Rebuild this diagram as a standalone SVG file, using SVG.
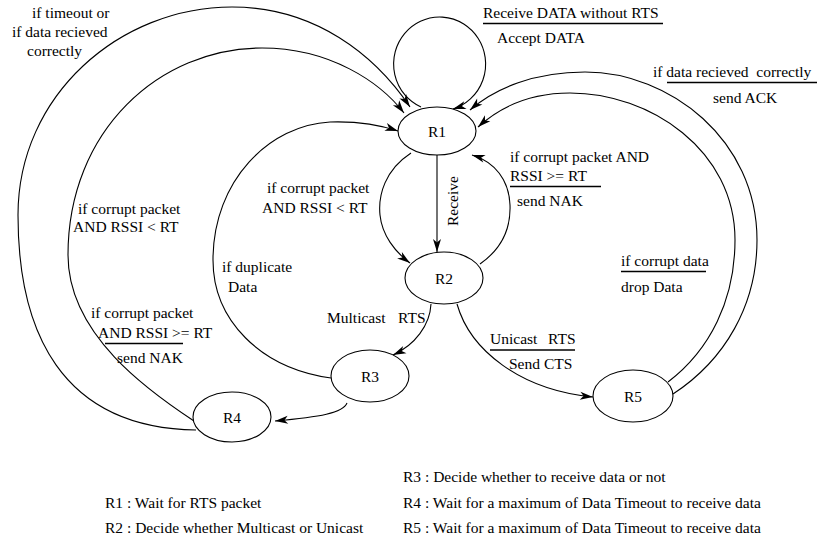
<svg xmlns="http://www.w3.org/2000/svg" width="819" height="542" viewBox="0 0 819 542">
<style>
text{font-family:"Liberation Serif","Times New Roman",serif;font-size:15.5px;fill:#000}
.n ellipse{fill:#fff;stroke:#000;stroke-width:1.1}
.n text{text-anchor:middle}
.c path{fill:none;stroke:#000;stroke-width:1.1}
.bar{stroke:#000;stroke-width:1.3}
</style>
<defs>
<marker id="ah" markerUnits="userSpaceOnUse" markerWidth="16" markerHeight="10" refX="13" refY="4.5" orient="auto" overflow="visible">
<path d="M0,0.5 L13,4.5 L0,8.5 L3.5,4.5 z" fill="#000"/>
</marker>
</defs>
<rect width="819" height="542" fill="#fff"/>
<g id="connectors" class="c">
<path d="M421,107 A46 47 0 1 1 453,109" marker-end="url(#ah)"/>
<path d="M196,430 C60,428 18,330 18,215 C18,95 120,7 232,7 C315,7 375,55 410,107" marker-end="url(#ah)"/>
<path d="M194,421 C150,392 68,335 68,255 C68,130 160,48 262,48 C330,48 380,82 404,113" marker-end="url(#ah)"/>
<path d="M331,378 C260,368 213,320 213,260 C213,180 270,125 330,122 C360,121 380,125 398,131" marker-end="url(#ah)"/>
<path d="M411,153 C385,170 378,195 380,215 C382,235 395,252 410,263" marker-end="url(#ah)"/>
<path d="M437,155 L437,252" marker-end="url(#ah)"/>
<path d="M480,264 C500,250 511,230 510,205 C509,180 495,162 472,155" marker-end="url(#ah)"/>
<path d="M431,304 C430,325 415,345 393,355" marker-end="url(#ah)"/>
<path d="M347,403 C343,413 320,417 275,421" marker-end="url(#ah)"/>
<path d="M457,304 C470,350 520,390 593,397" marker-end="url(#ah)"/>
<path d="M668,382 C710,350 735,300 735,240 C735,150 650,93 570,93 C530,93 500,107 478,127" marker-end="url(#ah)"/>
<path d="M673,394 C725,360 757,305 757,240 C757,140 670,72 585,72 C535,72 495,88 470,110" marker-end="url(#ah)"/>
</g>
<g id="R1" class="n"><ellipse cx="437" cy="131" rx="39" ry="24"/><text x="437" y="136.5">R1</text></g>
<g id="R2" class="n"><ellipse cx="444" cy="278" rx="39" ry="26"/><text x="444" y="283.5">R2</text></g>
<g id="R3" class="n"><ellipse cx="370" cy="376" rx="39" ry="26"/><text x="370" y="381.5">R3</text></g>
<g id="R4" class="n"><ellipse cx="232" cy="417" rx="39" ry="25"/><text x="232" y="422.5">R4</text></g>
<g id="R5" class="n"><ellipse cx="633" cy="396" rx="40" ry="26"/><text x="633" y="401.5">R5</text></g>
<g id="labels">
<text x="32" y="18">if timeout or</text>
<text x="12" y="37">if data recieved</text>
<text x="27" y="56">correctly</text>
<text x="483" y="18">Receive DATA without RTS</text>
<line class="bar" x1="483" y1="23.5" x2="663" y2="23.5"/>
<text x="497" y="43">Accept DATA</text>
<text x="653" y="77" xml:space="preserve">if data recieved  correctly</text>
<line class="bar" x1="667" y1="82.5" x2="817" y2="82.5"/>
<text x="713" y="103">send ACK</text>
<text x="510" y="162">if corrupt packet AND</text>
<text x="510" y="181">RSSI &gt;= RT</text>
<line class="bar" x1="510" y1="186.5" x2="601" y2="186.5"/>
<text x="517" y="206">send NAK</text>
<text x="267" y="193">if corrupt packet</text>
<text x="262" y="213">AND RSSI &lt; RT</text>
<text x="78" y="214">if corrupt packet</text>
<text x="73" y="232">AND RSSI &lt; RT</text>
<text x="222" y="272">if duplicate</text>
<text x="228" y="292">Data</text>
<text x="91" y="318">if corrupt packet</text>
<text x="98" y="338">AND RSSI &gt;= RT</text>
<line class="bar" x1="105" y1="343.5" x2="183" y2="343.5"/>
<text x="117" y="363">send NAK</text>
<text x="327" y="323">Multicast</text>
<text x="398" y="323">RTS</text>
<text x="490" y="344">Unicast</text>
<text x="548" y="344">RTS</text>
<line class="bar" x1="490" y1="350" x2="575" y2="350"/>
<text x="509" y="369">Send CTS</text>
<text x="621" y="266">if corrupt data</text>
<line class="bar" x1="621" y1="271.5" x2="706" y2="271.5"/>
<text x="621" y="292">drop Data</text>
<text transform="translate(458,226) rotate(-90)">Receive</text>
</g>
<g id="legend">
<text x="403" y="482">R3 : Decide whether to receive data or not</text>
<text x="105" y="508">R1 : Wait for RTS packet</text>
<text x="403" y="508">R4 : Wait for a maximum of Data Timeout to receive data</text>
<text x="105" y="533">R2 : Decide whether Multicast or Unicast</text>
<text x="403" y="533">R5 : Wait for a maximum of Data Timeout to receive data</text>
</g>
</svg>
